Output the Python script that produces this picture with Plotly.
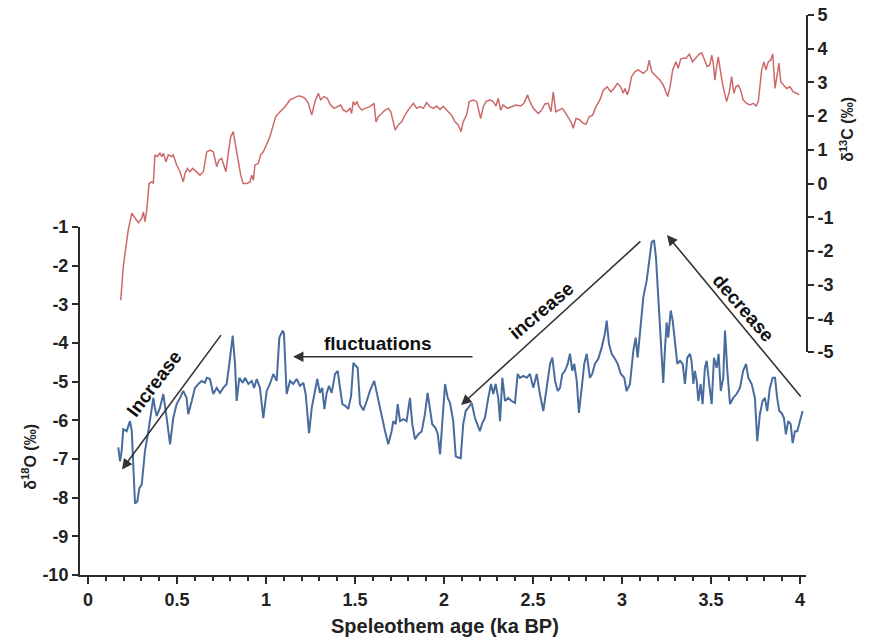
import plotly.graph_objects as go

# ---- δ18O series (left axis) ----
o_age = [0.170,0.180,0.189,0.198,0.217,0.236,0.246,0.254,0.264,0.277,0.288,0.302,0.311,0.320,0.339,0.358,0.367,0.376,0.386,0.404,
         0.423,0.442,0.461,0.479,0.498,0.517,0.535,0.554,0.563,0.583,0.601,0.620,0.639,0.657,0.667,0.685,0.704,0.723,0.742,0.760,
         0.779,0.794,0.813,0.826,0.835,0.850,0.869,0.882,0.901,0.920,0.933,0.948,0.966,0.985,1.004,1.022,1.041,1.060,1.075,1.094,
         1.101,1.116,1.135,1.153,1.172,1.191,1.210,1.223,1.242,1.257,1.275,1.288,1.303,1.316,1.328,1.341,1.354,1.369,1.388,1.403,
         1.416,1.429,1.448,1.462,1.478,1.491,1.504,1.515,1.528,1.547,1.566,1.584,1.608,1.631,1.650,1.669,1.687,1.706,1.715,1.729,
         1.740,1.753,1.771,1.790,1.809,1.822,1.837,1.856,1.875,1.893,1.908,1.921,1.934,1.953,1.965,1.978,1.990,2.006,2.021,2.034,
         2.052,2.066,2.080,2.094,2.108,2.122,2.136,2.156,2.174,2.189,2.202,2.215,2.230,2.249,2.264,2.277,2.290,2.305,2.315,2.328,
         2.343,2.361,2.380,2.399,2.414,2.427,2.446,2.465,2.483,2.502,2.521,2.539,2.558,2.577,2.596,2.609,2.624,2.639,2.652,2.665,
         2.680,2.695,2.708,2.721,2.732,2.746,2.758,2.774,2.788,2.802,2.820,2.833,2.848,2.867,2.886,2.904,2.914,2.927,2.942,2.957,
         2.976,2.994,3.013,3.026,3.045,3.064,3.077,3.088,3.107,3.120,3.139,3.153,3.167,3.180,3.191,3.204,3.217,3.232,3.242,3.251,
         3.260,3.274,3.285,3.298,3.311,3.326,3.341,3.354,3.367,3.382,3.391,3.401,3.410,3.420,3.429,3.442,3.453,3.466,3.476,3.490,
         3.504,3.517,3.532,3.543,3.555,3.569,3.579,3.592,3.607,3.625,3.644,3.663,3.681,3.697,3.710,3.729,3.747,3.760,3.775,3.790,
         3.803,3.816,3.831,3.847,3.860,3.872,3.884,3.897,3.910,3.921,3.934,3.948,3.959,3.972,3.985,4.000,4.015]
o_val = [-6.70,-7.06,-6.80,-6.23,-6.28,-6.02,-6.28,-7.14,-8.15,-8.10,-7.76,-7.66,-7.14,-6.80,-6.28,-5.76,-5.42,-5.68,-5.89,-5.68,
         -5.32,-5.94,-6.62,-5.94,-5.58,-5.42,-5.24,-5.42,-5.84,-5.50,-5.16,-5.06,-4.98,-5.03,-4.90,-4.93,-5.32,-5.16,-5.29,-5.16,
         -5.06,-4.54,-3.81,-4.54,-5.50,-4.90,-5.03,-4.90,-5.06,-4.98,-5.16,-4.93,-5.16,-5.94,-5.24,-5.06,-4.80,-4.98,-3.86,-3.68,
         -3.76,-5.32,-4.98,-5.06,-4.93,-5.11,-5.03,-5.32,-6.33,-5.68,-5.24,-4.93,-5.29,-5.16,-5.71,-5.29,-5.11,-5.29,-4.80,-4.72,
         -5.16,-5.58,-5.63,-5.71,-5.37,-4.51,-4.59,-4.64,-5.58,-5.74,-5.50,-5.24,-4.98,-5.50,-5.94,-6.28,-6.62,-6.28,-6.02,-6.10,
         -5.58,-6.02,-5.97,-6.02,-5.42,-6.10,-6.49,-6.36,-6.28,-5.84,-5.29,-5.68,-6.10,-6.20,-6.36,-6.88,-6.02,-5.06,-5.42,-5.55,
         -6.02,-6.93,-6.96,-6.98,-6.10,-5.76,-5.68,-5.55,-5.94,-6.10,-6.28,-6.07,-5.94,-5.42,-5.06,-5.32,-5.06,-5.42,-6.02,-4.90,
         -5.50,-5.42,-5.50,-5.55,-4.80,-4.90,-4.85,-4.90,-4.80,-5.16,-4.80,-5.32,-5.76,-5.16,-4.54,-4.38,-4.98,-5.24,-5.16,-4.80,
         -4.72,-4.54,-4.28,-4.72,-4.54,-4.98,-5.81,-5.16,-4.54,-4.28,-4.90,-4.80,-4.54,-4.41,-4.12,-3.76,-3.42,-4.02,-4.28,-4.38,
         -4.54,-4.80,-4.90,-5.24,-5.06,-4.20,-3.86,-4.38,-3.50,-2.82,-2.38,-1.86,-1.39,-1.34,-1.78,-2.82,-3.94,-5.03,-4.12,-3.47,
         -3.86,-3.16,-3.42,-3.94,-4.54,-4.46,-4.54,-5.06,-4.38,-4.28,-4.46,-5.06,-4.72,-4.98,-5.50,-5.06,-5.58,-4.64,-4.46,-5.06,
         -5.58,-4.38,-4.64,-4.28,-5.24,-4.90,-3.68,-4.72,-5.58,-5.42,-5.32,-5.16,-4.72,-4.54,-4.90,-5.06,-5.42,-6.54,-5.84,-5.50,
         -5.42,-5.76,-5.16,-4.90,-4.90,-5.42,-5.76,-5.81,-5.94,-6.36,-6.02,-6.10,-6.59,-6.28,-6.28,-6.02,-5.76]

# ---- δ13C series (right axis) ----
c_age = [0.184,0.198,0.213,0.226,0.246,0.264,0.283,0.302,0.311,0.320,0.330,0.343,0.358,0.367,0.376,0.389,0.404,0.414,0.423,0.438,
         0.451,0.470,0.479,0.498,0.517,0.535,0.545,0.558,0.573,0.588,0.611,0.629,0.648,0.667,0.685,0.704,0.723,0.736,0.751,0.764,
         0.775,0.788,0.802,0.816,0.831,0.844,0.858,0.872,0.892,0.910,0.920,0.929,0.938,0.957,0.970,0.985,1.004,1.022,1.041,1.054,
         1.079,1.107,1.135,1.163,1.181,1.201,1.219,1.238,1.257,1.275,1.294,1.307,1.326,1.344,1.363,1.382,1.401,1.420,1.434,1.453,
         1.472,1.481,1.490,1.500,1.510,1.522,1.538,1.556,1.584,1.607,1.618,1.631,1.650,1.669,1.687,1.701,1.715,1.726,1.743,1.762,
         1.781,1.799,1.828,1.847,1.865,1.884,1.903,1.921,1.940,1.959,1.978,1.996,2.024,2.043,2.062,2.080,2.096,2.108,2.127,2.142,
         2.165,2.184,2.206,2.221,2.236,2.258,2.277,2.292,2.305,2.318,2.333,2.356,2.380,2.404,2.431,2.449,2.470,2.483,2.502,2.530,
         2.549,2.567,2.586,2.601,2.614,2.628,2.646,2.665,2.685,2.704,2.717,2.726,2.742,2.760,2.779,2.798,2.816,2.835,2.854,2.876,
         2.895,2.917,2.937,2.955,2.974,2.993,3.007,3.017,3.030,3.041,3.054,3.073,3.092,3.120,3.142,3.153,3.167,3.185,3.213,3.232,
         3.247,3.257,3.270,3.285,3.303,3.316,3.330,3.344,3.360,3.378,3.397,3.416,3.434,3.448,3.466,3.479,3.494,3.504,3.513,3.522,
         3.532,3.541,3.554,3.566,3.579,3.588,3.603,3.616,3.629,3.640,3.653,3.667,3.681,3.700,3.719,3.738,3.753,3.766,3.785,3.798,
         3.809,3.822,3.835,3.847,3.860,3.872,3.882,3.892,3.906,3.925,3.944,3.962,3.981,3.996]
c_val = [-3.46,-2.47,-1.88,-1.38,-0.88,-1.03,-1.16,-1.03,-0.84,-1.13,-0.79,0.00,0.05,0.00,0.85,0.80,0.90,0.80,0.90,0.65,
         0.85,0.80,0.85,0.55,0.35,0.05,0.30,0.45,0.35,0.45,0.35,0.25,0.35,0.94,0.99,0.94,0.50,0.70,0.75,0.50,
         0.35,0.90,1.39,1.54,1.09,0.60,0.25,0.00,0.00,0.05,0.25,0.10,0.55,0.60,0.85,0.94,1.19,1.39,1.74,1.98,
         2.13,2.28,2.48,2.56,2.60,2.58,2.53,2.38,2.03,2.43,2.68,2.48,2.58,2.53,2.33,2.23,2.28,2.33,2.18,2.13,
         2.23,2.08,2.43,2.33,2.43,2.28,2.18,2.23,2.28,2.38,1.83,1.98,2.08,2.18,2.23,2.13,1.83,1.59,1.74,1.83,
         2.03,2.18,2.38,2.23,2.28,2.23,2.40,2.28,2.23,2.30,2.20,2.29,2.13,2.03,1.83,1.74,1.54,1.83,2.03,2.43,
         2.48,2.43,1.93,2.28,2.43,2.48,2.43,2.30,2.53,2.18,2.33,2.23,2.28,2.33,2.30,2.38,2.63,2.43,2.23,2.08,
         2.18,2.36,2.38,2.13,2.72,2.13,2.18,2.23,2.08,1.93,1.79,1.64,1.93,1.90,1.80,1.76,1.98,2.03,2.28,2.48,
         2.77,2.87,2.72,2.82,2.97,2.87,2.68,2.82,2.63,2.82,3.17,3.32,3.37,3.27,3.37,3.66,3.32,3.22,3.07,2.92,
         2.72,2.58,2.87,3.37,3.61,3.42,3.69,3.72,3.72,3.84,3.61,3.72,3.84,3.88,3.66,3.47,3.52,3.81,3.57,3.07,
         3.47,3.76,3.32,2.92,2.63,2.43,2.72,3.17,2.68,2.87,2.92,2.77,2.48,2.38,2.33,2.38,2.30,2.43,3.37,3.61,
         3.37,3.61,3.66,3.84,2.82,3.22,3.57,3.02,2.92,2.82,2.87,2.72,2.68,2.63]

x_ticks = [0, 0.5, 1, 1.5, 2, 2.5, 3, 3.5, 4]
x_labels = ["0", "0.5", "1", "1.5", "2", "2.5", "3", "3.5", "4"]
o_ticks = [-1, -2, -3, -4, -5, -6, -7, -8, -9, -10]
o_labels = ["-1", "-2", "-3", "-4", "-5", "-6", "-7", "-8", "-9", "-10"]
c_ticks = [5, 4, 3, 2, 1, 0, -1, -2, -3, -4, -5]
c_labels = ["5", "4", "3", "2", "1", "0", "-1", "-2", "-3", "-4", "-5"]

# arrow annotations: (head_x, head_y, tail_x, tail_y) in age / δ18O units
arrows = [
    (0.191, -7.27, 0.753, -3.757),
    (1.152, -4.356, 2.169, -4.356),
    (2.096, -5.605, 3.112, -1.338),
    (3.253, -1.208, 4.011, -5.42),
]
# labels: (text, x, y, angle)
labels = [
    ("Increase", 0.373, -5.06, -53),
    ("fluctuations", 1.629, -4.02, 0),
    ("increase", 2.548, -3.17, -40),
    ("decrease", 3.680, -3.09, 49),
]

FONT = "Liberation Sans, Arial, sans-serif"
AX = "#2b2b2b"

fig = go.Figure()
fig.add_trace(go.Scatter(x=c_age, y=c_val, mode="lines", yaxis="y2",
                         line=dict(color="rgb(205,105,105)", width=1.5), showlegend=False))
fig.add_trace(go.Scatter(x=o_age, y=o_val, mode="lines", yaxis="y",
                         line=dict(color="rgb(72,108,158)", width=2), showlegend=False))

tickfont = dict(family=FONT, size=18, color="#222", weight="bold")

# page body has an 8px margin, so the figure is 8px smaller and margins shifted
fig.update_layout(
    width=864, height=634,
    margin=dict(l=72, r=66, t=7, b=67, autoexpand=False),
    paper_bgcolor="white", plot_bgcolor="rgba(0,0,0,0)",
    xaxis=dict(range=[-0.045, 4.034], tickvals=x_ticks, ticktext=x_labels, automargin=False,
               showline=True, linecolor=AX, linewidth=2, ticks="outside", ticklen=7,
               tickwidth=1.5, tickcolor=AX, showgrid=False, zeroline=False, tickfont=tickfont,
               minor=dict(dtick=0.1, tick0=0, ticks="outside", ticklen=4, tickcolor=AX, showgrid=False)),
    yaxis=dict(domain=[0, 0.6214], range=[-10, -1], tickvals=o_ticks, ticktext=o_labels, automargin=False,
               showline=True, linecolor=AX, linewidth=2, ticks="outside", ticklen=6,
               tickwidth=1.5, tickcolor=AX, showgrid=False, zeroline=False, tickfont=tickfont),
    yaxis2=dict(domain=[0.398, 1.0], range=[-5, 5], tickvals=c_ticks, ticktext=c_labels, anchor="x",
                side="right", automargin=False, ticklabeloverflow="allow",
                showline=True, linecolor=AX, linewidth=2, ticks="outside", ticklen=6,
                tickwidth=1.5, tickcolor=AX, showgrid=False, zeroline=False, tickfont=tickfont),
)

for hx, hy, tx, ty in arrows:
    fig.add_annotation(x=hx, y=hy, ax=tx, ay=ty, xref="x", yref="y", axref="x", ayref="y",
                       text="", showarrow=True, arrowhead=2, arrowsize=1.3, arrowwidth=1.6,
                       arrowcolor="#333")

for txt, lx, ly, ang in labels:
    fig.add_annotation(x=lx, y=ly, xref="x", yref="y", text=txt, showarrow=False,
                       textangle=ang, font=dict(family=FONT, size=19, color="#111", weight="bold"))

fig.add_annotation(xref="paper", yref="paper", x=0.503, y=-0.091, yanchor="middle",
                   text="Speleothem age (ka BP)",
                   showarrow=False, font=dict(family=FONT, size=20, color="#222", weight="bold"))
fig.add_annotation(xref="paper", yref="paper", x=-0.086, y=0.148, text="δ<sup>18</sup>O (‰)",
                   showarrow=False, textangle=-90, font=dict(family=FONT, size=16, color="#222", weight="bold"))
fig.add_annotation(xref="paper", yref="paper", x=1.072, y=0.857, text="δ<sup>13</sup>C (‰)",
                   showarrow=False, textangle=-90, font=dict(family=FONT, size=16, color="#222", weight="bold"))

fig.write_html("out.html")
